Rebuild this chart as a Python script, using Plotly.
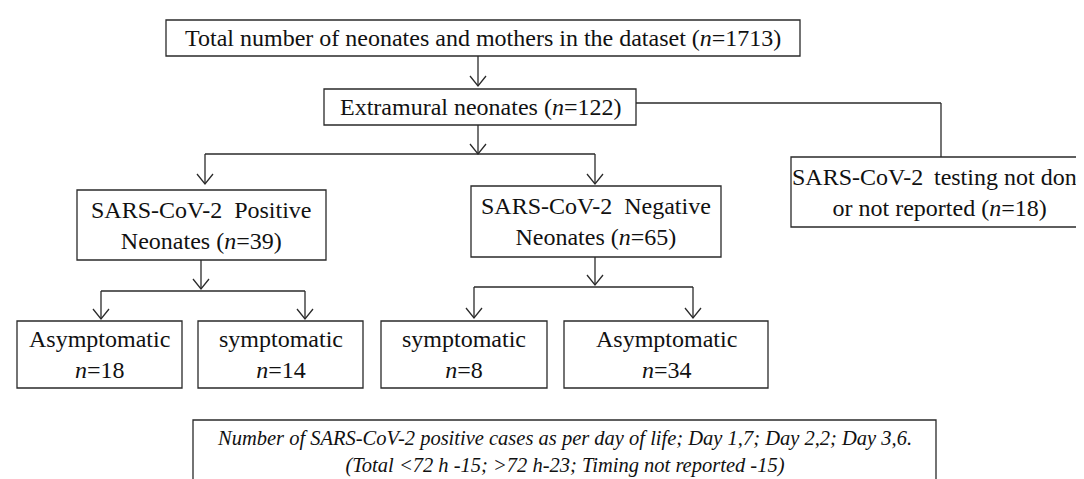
import plotly.graph_objects as go

# ---- data ----
node_titles = [
    "Total number of neonates and mothers in the dataset",
    "Extramural neonates",
    "SARS-CoV-2\u00a0 Positive<br>Neonates",
    "SARS-CoV-2\u00a0 Negative<br>Neonates",
    "SARS-CoV-2 \u2009testing not done<br>or not reported",
    "Asymptomatic",
    "symptomatic",
    "symptomatic",
    "Asymptomatic",
]
node_n = [1713, 122, 39, 65, 18, 18, 14, 8, 34]
node_style = ["inline", "inline", "inline", "inline", "inline", "below", "below", "below", "below"]
note_lines = [
    "Number of SARS-CoV-2 positive cases as per day of life; Day 1,7; Day 2,2; Day 3,6.",
    "(Total <72 h -15; >72 h-23; Timing not reported -15)",
]

# ---- layout geometry (pixels) ----
W, H = 1084, 479
boxes = [
    (158, 792, 12, 48),
    (316, 628, 81, 117),
    (69, 318, 182, 252),
    (463, 713, 178, 249),
    (783, 1087, 149, 219),
    (9, 174, 313, 380),
    (190, 355, 313, 380),
    (373, 539, 313, 380),
    (556, 760, 313, 380),
]
text_xshift = [0, 0, 0, 0, -4, 0, 0, 0, 0]
note_box = (185, 928, 412, 490)

LINE = dict(color="#2a2a2a", width=1.3)
FONT = "Liberation Serif"

fig = go.Figure()
shapes = []
annotations = []

for (x0, x1, y0, y1), title, n, style, xs in zip(boxes, node_titles, node_n, node_style, text_xshift):
    shapes.append(dict(type="rect", x0=x0, x1=x1, y0=y0, y1=y1, xref="x", yref="y",
                       line=LINE, fillcolor="white"))
    if style == "inline":
        txt = f"{title} (<i>n</i>={n})"
    else:
        txt = f"{title}<br><i>n</i>={n}"
    annotations.append(dict(x=(x0 + x1) / 2, y=(y0 + y1) / 2, xref="x", yref="y",
                            xshift=xs, text=txt, showarrow=False, align="center",
                            font=dict(family=FONT, size=24, color="#111")))

x0, x1, y0, y1 = note_box
shapes.append(dict(type="rect", x0=x0, x1=x1, y0=y0, y1=y1, xref="x", yref="y",
                   line=LINE, fillcolor="white"))
annotations.append(dict(x=(x0 + x1) / 2, y=444, xref="x", yref="y",
                        text="<i>" + "<br>".join(note_lines) + "</i>",
                        showarrow=False, align="center",
                        font=dict(family=FONT, size=20.5, color="#111")))


def seg(xa, ya, xb, yb):
    shapes.append(dict(type="line", x0=xa, y0=ya, x1=xb, y1=yb, xref="x", yref="y", line=LINE))


def arrow_down(x, ya, yb):
    seg(x, ya, x, yb)
    shapes.append(dict(type="path", path=f"M {x-8},{yb-10} L {x},{yb} L {x+8},{yb-10}",
                       xref="x", yref="y", line=LINE))


# top -> extramural
arrow_down(470, 48, 78)
# extramural -> side box
seg(628, 95, 933, 95)
seg(933, 95, 933, 149)
# extramural -> split
arrow_down(470, 117, 146)
seg(197, 146, 587, 146)
arrow_down(197, 146, 176)
arrow_down(587, 146, 176)
# positive -> split
arrow_down(193, 252, 281)
seg(93, 283, 297, 283)
arrow_down(93, 283, 311)
arrow_down(297, 283, 311)
# negative -> split
arrow_down(587, 249, 277)
seg(466, 279, 685, 279)
arrow_down(466, 279, 310)
arrow_down(685, 279, 310)

fig.update_layout(
    width=W, height=H,
    margin=dict(l=0, r=0, t=0, b=0),
    paper_bgcolor="white", plot_bgcolor="white",
    xaxis=dict(range=[0, W], visible=False, fixedrange=True),
    yaxis=dict(range=[H, 0], visible=False, fixedrange=True),
    shapes=shapes, annotations=annotations, showlegend=False,
)
fig.write_html("out.html")
